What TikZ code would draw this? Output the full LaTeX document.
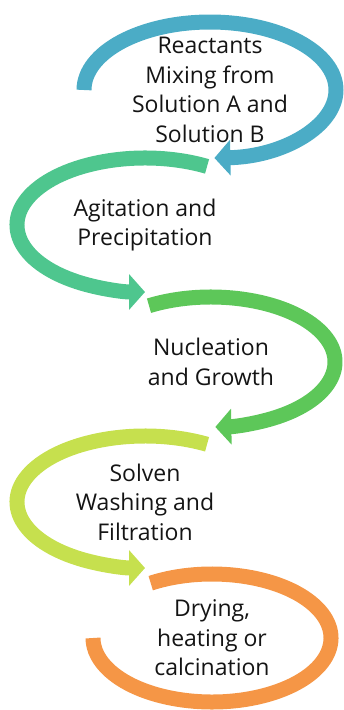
\documentclass[tikz,border=0pt]{standalone}
\usepackage{fontspec}
\setmainfont{Open Sans}
\usetikzlibrary{arrows.meta}
\definecolor{loopblue}{HTML}{4BACC6}
\definecolor{loopteal}{HTML}{4EC68E}
\definecolor{loopgreen}{HTML}{5DC759}
\definecolor{looplime}{HTML}{C6E04E}
\definecolor{looporange}{HTML}{F59646}
\definecolor{stagetext}{HTML}{141414}
\begin{document}
\begin{tikzpicture}[x=1pt,y=1pt,
  stage/.style={align=center,inner sep=0pt,text=stagetext,
    font=\fontsize{23}{29.5}\selectfont},
  band/.style={line width=15pt,draw=#1},
  tip/.style={-{Triangle[length=16pt,width=35pt]}}]
% Frame
\useasboundingbox (0,0) rectangle (344,-710);
% Stages
\node[stage] (mix) at (210,-90) {Reactants\\Mixing from\\Solution A and\\Solution B};
\node[stage] (agit) at (145,-225) {Agitation and\\Precipitation};
\node[stage] (nucl) at (211,-362) {Nucleation\\and Growth};
\node[stage] (wash) at (145,-502) {Solven\\Washing and\\Filtration};
\node[stage] (dry) at (212,-638) {Drying,\\heating or\\calcination};
% Loops round each stage
\draw[band=loopblue,tip] ([shift={(180:126 and 68)}]mix.center)
  arc[start angle=180,end angle=-88,x radius=126,y radius=68];
\draw[band=loopteal,tip] ([shift={(61:128 and 67)}]agit.center)
  arc[start angle=61,end angle=270,x radius=128,y radius=67];
\draw[band=loopgreen,tip] ([shift={(120:124 and 65)}]nucl.center)
  arc[start angle=120,end angle=-88,x radius=124,y radius=65];
\draw[band=looplime,tip] ([shift={(61:128 and 66)}]wash.center)
  arc[start angle=61,end angle=270,x radius=128,y radius=66];
\draw[band=looporange] ([shift={(121:119 and 64)}]dry.center)
  arc[start angle=121,end angle=-180,x radius=119,y radius=64];
\end{tikzpicture}
\end{document}
